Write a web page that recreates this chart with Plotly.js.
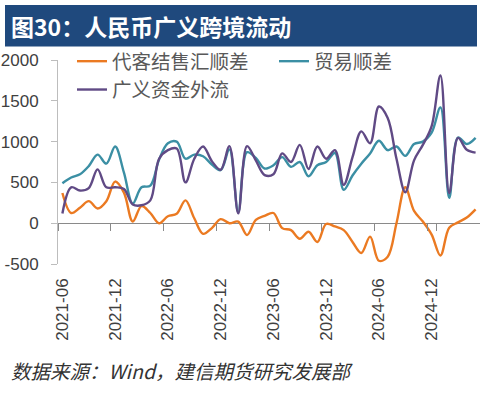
<!DOCTYPE html>
<html>
<head>
<meta charset="utf-8">
<script src="https://cdn.plot.ly/plotly-3.0.1.min.js"></script>
<style>
html,body{margin:0;padding:0;background:#fff;}
#chart{width:483px;height:394px;}
</style>
</head>
<body>
<div id="chart"></div>
<script>
// ---- data ----
const months = [
  '2021-06','2021-07','2021-08','2021-09','2021-10','2021-11','2021-12',
  '2022-01','2022-02','2022-03','2022-04','2022-05','2022-06','2022-07','2022-08','2022-09','2022-10','2022-11','2022-12',
  '2023-01','2023-02','2023-03','2023-04','2023-05','2023-06','2023-07','2023-08','2023-09','2023-10','2023-11','2023-12',
  '2024-01','2024-02','2024-03','2024-04','2024-05','2024-06','2024-07','2024-08','2024-09','2024-10','2024-11','2024-12',
  '2025-01','2025-02','2025-03','2025-04','2025-05'
];
const fxSettlement = [
  370, 125, 190, 270, 180, 270, 510,
  375, 20, 210, 125, 0, 85, 115, 280, 60, -130, -60, 50,
  0, 20, -145, 40, 90, 125, -60, -85, -190, -105, -230, -10,
  -40, -85, -230, -365, -165, -460, -410, 0, 440, 150, 20, -140,
  -395, -55, 10, 70, 170
];
const tradeSurplus = [
  490, 560, 600, 700, 840, 730, 940,
  620, 240, 440, 460, 780, 980, 1000, 790, 840, 820, 720, 650,
  905, 135, 870, 800, 670, 710, 810, 690, 750, 575, 710, 750,
  860, 410, 585, 730, 855, 1010, 895, 940, 825, 970, 1000, 1110,
  1420, 310, 1050, 970, 1045
];
const capitalOutflow = [
  120, 440, 400, 430, 660, 440, 440,
  420, 230, 220, 280, 790, 895, 915, 500, 790, 940, 760, 655,
  945, 120, 945, 770, 590, 600, 855, 750, 960, 665, 940, 790,
  895, 470, 810, 1125, 980, 1430, 1290, 790, 380, 770, 960, 1190,
  1810, 370, 1045, 900, 865
];
const seriesNames = ['代客结售汇顺差', '贸易顺差', '广义资金外流'];
const tickLabels = ['2021-06','2021-12','2022-06','2022-12','2023-06','2023-12','2024-06','2024-12'];
const yTicks = [-500, 0, 500, 1000, 1500, 2000];

// ---- layout helpers (pixel -> paper) ----
const W = 483, H = 394;
const M = {l: 58, r: 3, t: 60, b: 130};
const PW = W - M.l - M.r, PH = H - M.t - M.b;
const px = x => (x - M.l) / PW;
const py = y => (H - M.b - y) / PH;

const lineStyle = (c) => ({color: c, width: 2.4, shape: 'spline', smoothing: 1});

const traces = [
  {x: months, y: fxSettlement, name: seriesNames[0], type: 'scatter', mode: 'lines',
   line: lineStyle('#EB7A22'), xaxis: 'x', yaxis: 'y', legend: 'legend'},
  {x: months, y: tradeSurplus, name: seriesNames[1], type: 'scatter', mode: 'lines',
   line: lineStyle('#3B8FA4'), xaxis: 'x', yaxis: 'y', legend: 'legend2'},
  {x: months, y: capitalOutflow, name: seriesNames[2], type: 'scatter', mode: 'lines',
   line: lineStyle('#604A85'), xaxis: 'x2', yaxis: 'y', legend: 'legend'}
];

const axisFont = {family: 'Liberation Sans, Arial, sans-serif', size: 17, color: '#404040'};
const legendFont = {family: 'Noto Sans CJK SC, sans-serif', size: 19.5, color: '#595959'};

const layout = {
  width: W, height: H,
  margin: M,
  paper_bgcolor: '#fff', plot_bgcolor: '#fff',
  showlegend: true,
  legend: {
    orientation: 'v',
    x: px(72), xanchor: 'left',
    y: py(42), yanchor: 'top',
    font: legendFont,
    bgcolor: 'rgba(0,0,0,0)',
    tracegroupgap: 0
  },
  legend2: {
    orientation: 'v',
    x: px(274), xanchor: 'left',
    y: py(42), yanchor: 'top',
    font: legendFont,
    bgcolor: 'rgba(0,0,0,0)'
  },
  xaxis: {
    type: 'category',
    range: [-0.5, months.length - 0.5],
    tickmode: 'array', tickvals: tickLabels, ticktext: tickLabels,
    tickangle: -90,
    ticks: '', showline: false, showgrid: false, zeroline: false,
    ticklabelstandoff: 10,
    tickfont: axisFont,
    fixedrange: true
  },
  xaxis2: {
    type: 'category',
    overlaying: 'x', anchor: 'free', position: 0.2,
    range: [-0.5, months.length - 0.5],
    tickmode: 'array', tickvals: tickLabels,
    tickson: 'boundaries',
    ticks: 'outside', ticklen: 7, tickwidth: 1, tickcolor: '#8a8a8a',
    showticklabels: false, showline: false, showgrid: false, zeroline: false,
    side: 'bottom'
  },
  yaxis: {
    range: [-500, 2000],
    tickmode: 'array', tickvals: yTicks, ticktext: yTicks.map(String),
    ticks: 'outside', ticklen: 6, tickwidth: 1, tickcolor: '#bdbdbd',
    showline: true, linecolor: '#bdbdbd', linewidth: 1,
    showgrid: false,
    zeroline: true, zerolinecolor: '#8a8a8a', zerolinewidth: 1,
    ticklabelstandoff: 9,
    tickfont: axisFont,
    fixedrange: true
  },
  shapes: [
    {type: 'rect', xref: 'paper', yref: 'paper', layer: 'below',
     x0: px(5), x1: px(477), y0: py(46.5), y1: py(5),
     fillcolor: '#1F497D', line: {width: 0}}
  ],
  annotations: [
    {text: '<b>图30：人民币广义跨境流动</b>', xref: 'paper', yref: 'paper',
     x: px(9), y: py(26), xanchor: 'left', yanchor: 'middle', showarrow: false,
     font: {family: 'Noto Sans CJK SC, sans-serif', size: 23, color: '#ffffff'}},
    {text: '<i>数据来源：Wind，建信期货研究发展部</i>', xref: 'paper', yref: 'paper',
     x: px(9), y: py(370), xanchor: 'left', yanchor: 'middle', showarrow: false,
     font: {family: 'Noto Sans CJK SC, sans-serif', size: 19.5, color: '#333333'}}
  ]
};

Plotly.newPlot('chart', traces, layout, {displayModeBar: false, staticPlot: true});
</script>
</body>
</html>
